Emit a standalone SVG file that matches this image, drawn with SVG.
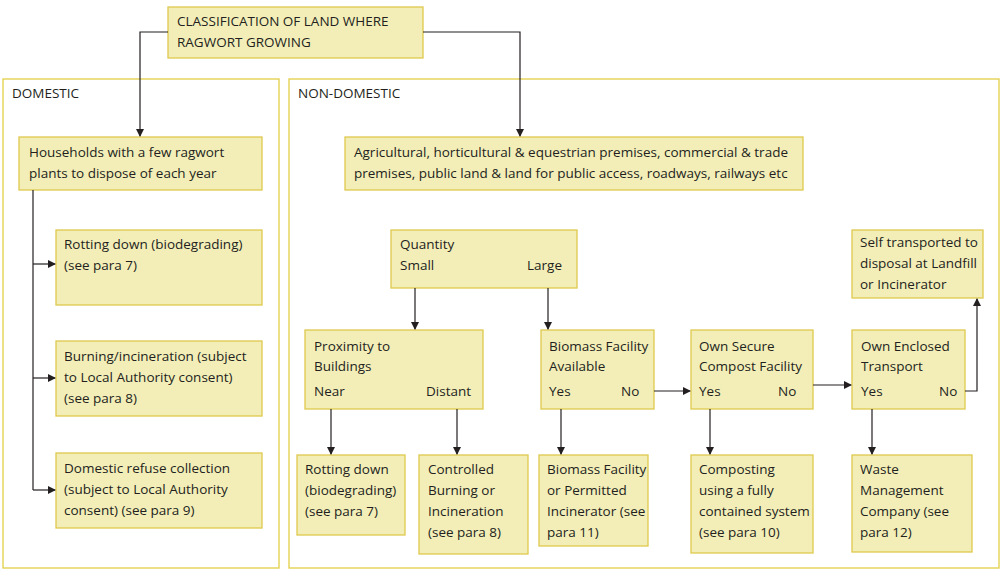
<svg xmlns="http://www.w3.org/2000/svg" width="1003" height="572" viewBox="0 0 1003 572">
<style>
.b{fill:#f3eeb8;stroke:#ddc94e;stroke-width:1.3}
.c{fill:none;stroke:#e2cf45;stroke-width:1.3}
text{font-family:"Open Sans","Noto Sans",sans-serif;font-size:13.5px;fill:#231f20}
.l{fill:none;stroke:#231f20;stroke-width:1.2;marker-end:url(#a)}
</style>
<defs><marker id="a" markerWidth="8" markerHeight="8" refX="7" refY="4" orient="auto" markerUnits="userSpaceOnUse"><path d="M0,0L8,4L0,8z" fill="#231f20"/></marker></defs>
<rect width="1003" height="572" fill="#fff"/>
<g id="domestic"><rect class="c" x="3" y="79" width="276" height="489"/><text x="12" y="98">DOMESTIC</text></g>
<g id="nondomestic"><rect class="c" x="289" y="79" width="710" height="489"/><text x="298" y="98">NON-DOMESTIC</text></g>
<g id="top"><rect class="b" x="168" y="7" width="255" height="51"/><text x="177" y="26">CLASSIFICATION OF LAND WHERE</text><text x="177" y="47">RAGWORT GROWING</text></g>
<g id="households"><rect class="b" x="19" y="137" width="243" height="53"/><text x="29" y="157">Households with a few ragwort</text><text x="29" y="178">plants to dispose of each year</text></g>
<g id="rot1"><rect class="b" x="56" y="230" width="206" height="75"/><text x="64" y="249">Rotting down (biodegrading)</text><text x="64" y="270">(see para 7)</text></g>
<g id="burn1"><rect class="b" x="56" y="341" width="206" height="75"/><text x="64" y="361">Burning/incineration (subject</text><text x="64" y="382">to Local Authority consent)</text><text x="64" y="403">(see para 8)</text></g>
<g id="refuse"><rect class="b" x="56" y="453" width="206" height="75"/><text x="64" y="473">Domestic refuse collection</text><text x="64" y="494">(subject to Local Authority</text><text x="64" y="515">consent) (see para 9)</text></g>
<g id="agri"><rect class="b" x="345" y="137" width="458" height="53"/><text x="354" y="157">Agricultural, horticultural &amp; equestrian premises, commercial &amp; trade</text><text x="354" y="178">premises, public land &amp; land for public access, roadways, railways etc</text></g>
<g id="quantity"><rect class="b" x="391" y="230" width="186" height="58"/><text x="400" y="249">Quantity</text><text x="400" y="270">Small</text><text x="527" y="270">Large</text></g>
<g id="self"><rect class="b" x="852" y="230" width="131" height="68"/><text x="860" y="247">Self transported to</text><text x="860" y="268">disposal at Landfill</text><text x="860" y="289">or Incinerator</text></g>
<g id="prox"><rect class="b" x="305" y="330" width="178" height="79"/><text x="314" y="351">Proximity to</text><text x="314" y="371">Buildings</text><text x="314" y="396">Near</text><text x="426" y="396">Distant</text></g>
<g id="bioavail"><rect class="b" x="541" y="330" width="113" height="79"/><text x="549" y="351">Biomass Facility</text><text x="549" y="371">Available</text><text x="549" y="396">Yes</text><text x="621" y="396">No</text></g>
<g id="compost"><rect class="b" x="691" y="330" width="122" height="79"/><text x="699" y="351">Own Secure</text><text x="699" y="371">Compost Facility</text><text x="699" y="396">Yes</text><text x="778" y="396">No</text></g>
<g id="transport"><rect class="b" x="852" y="330" width="113" height="79"/><text x="861" y="351">Own Enclosed</text><text x="861" y="371">Transport</text><text x="861" y="396">Yes</text><text x="939" y="396">No</text></g>
<g id="rot2"><rect class="b" x="297" y="455" width="108" height="80"/><text x="305" y="474">Rotting down</text><text x="305" y="495">(biodegrading)</text><text x="305" y="516">(see para 7)</text></g>
<g id="controlled"><rect class="b" x="419" y="455" width="109" height="99"/><text x="428" y="474">Controlled</text><text x="428" y="495">Burning or</text><text x="428" y="516">Incineration</text><text x="428" y="537">(see para 8)</text></g>
<g id="biofac"><rect class="b" x="539" y="455" width="109" height="91"/><text x="547" y="474">Biomass Facility</text><text x="547" y="495">or Permitted</text><text x="547" y="516">Incinerator (see</text><text x="547" y="537">para 11)</text></g>
<g id="composting"><rect class="b" x="691" y="455" width="122" height="98"/><text x="699" y="474">Composting</text><text x="699" y="495">using a fully</text><text x="699" y="516">contained system</text><text x="699" y="537">(see para 10)</text></g>
<g id="waste"><rect class="b" x="852" y="455" width="120" height="97"/><text x="860" y="474">Waste</text><text x="860" y="495">Management</text><text x="860" y="516">Company (see</text><text x="860" y="537">para 12)</text></g>
<g id="connectors">
<path class="l" d="M168,32H140V136"/>
<path class="l" d="M423,32H520V136"/>
<path d="M33,190V490" fill="none" stroke="#231f20" stroke-width="1.2"/>
<path class="l" d="M33,264H55"/>
<path class="l" d="M33,378H55"/>
<path class="l" d="M33,490H55"/>
<path class="l" d="M415,288V329"/>
<path class="l" d="M548,288V329"/>
<path class="l" d="M331,409V454"/>
<path class="l" d="M457,409V454"/>
<path class="l" d="M561,409V454"/>
<path class="l" d="M710,409V454"/>
<path class="l" d="M872,409V454"/>
<path class="l" d="M654,391H690"/>
<path class="l" d="M813,385H851"/>
<path class="l" d="M965,391H977V299"/>
</g>
</svg>
